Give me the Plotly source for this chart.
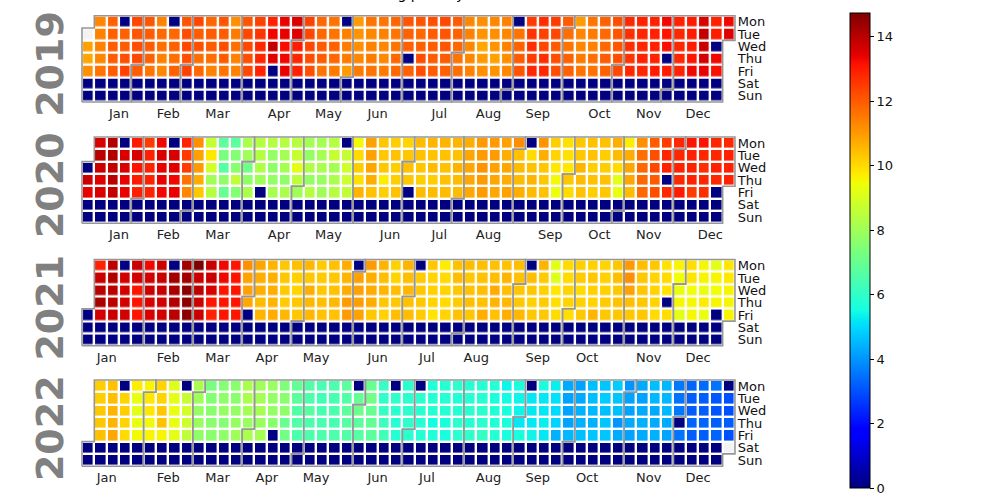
import datetime as dt
import numpy as np
import plotly.graph_objects as go

# ---------------- data ----------------
YEARS = [2019, 2020, 2021, 2022]
DATA_START = dt.date(2019, 1, 2)
DATA_END = dt.date(2022, 12, 30)
WEEKEND_VALUE = 0.0
VMIN, VMAX = 0.0, 14.74
MONTH_LABELS = ["Jan", "Feb", "Mar", "Apr", "May", "Jun",
                "Jul", "Aug", "Sep", "Oct", "Nov", "Dec"]
DAY_LABELS = ["Mon", "Tue", "Wed", "Thu", "Fri", "Sat", "Sun"]
TITLE = "Trading per day"

# weekday values (Mon..Fri) for each calendar week column of each year
W2019 = [
    [None, None, 10.9, 10.8, 11.2], [11.3, 11.4, 11.4, 11.3, 11.6], [11.9, 11.9, 12.0, 12.0, 12.0],
    [0, 11.9, 12.0, 12.2, 12.4], [12.3, 12.1, 12.2, 12.3, 12.0], [12.1, 12.0, 12.0, 11.9, 11.6],
    [11.4, 11.8, 11.7, 11.4, 11.3], [0, 11.8, 11.9, 11.7, 11.9], [12.1, 12.2, 12.3, 12.2, 12.4],
    [12.3, 12.0, 12.2, 11.7, 11.8], [11.8, 12.0, 12.0, 11.7, 11.4], [12.1, 12.0, 12.2, 12.0, 11.6],
    [11.2, 11.5, 11.7, 11.4, 11.4], [12.1, 12.3, 12.3, 12.2, 12.3], [12.4, 12.6, 12.8, 12.8, 12.9],
    [12.9, 13.3, 13.9, 13.5, 0], [13.4, 13.4, 13.2, 13.3, 13.4], [13.6, 13.5, 13.0, 12.8, 12.9],
    [12.4, 12.3, 12.3, 12.2, 12.2], [11.8, 11.8, 12.0, 12.0, 11.6], [11.6, 11.6, 11.9, 11.8, 11.5],
    [0, 11.4, 11.5, 11.5, 11.0], [11.0, 11.1, 11.2, 11.3, 11.5], [11.6, 11.3, 11.4, 11.5, 11.6],
    [11.6, 11.4, 11.3, 11.3, 11.5], [11.8, 11.6, 11.6, 11.8, 11.8], [12.1, 11.9, 11.9, 0, 11.9],
    [12.1, 11.8, 11.9, 12.2, 12.2], [12.2, 12.0, 12.0, 12.0, 12.0], [12.3, 12.1, 12.1, 12.0, 11.9],
    [12.0, 11.9, 11.8, 11.6, 11.7], [11.3, 11.4, 11.3, 11.3, 11.4], [11.2, 11.1, 10.8, 11.0, 11.2],
    [11.3, 11.2, 11.1, 10.9, 11.1], [11.4, 11.3, 11.4, 11.2, 11.3], [0, 11.6, 11.9, 12.0, 12.1],
    [12.5, 12.6, 12.7, 12.5, 12.8], [12.7, 12.4, 12.3, 12.7, 12.8], [12.5, 12.3, 12.0, 12.2, 12.2],
    [12.0, 11.7, 11.6, 11.9, 11.9], [11.0, 11.3, 11.3, 11.5, 11.6], [11.6, 11.5, 11.4, 11.7, 11.6],
    [11.9, 11.8, 11.8, 12.0, 11.9], [12.2, 12.1, 12.1, 12.2, 12.3], [12.8, 12.7, 12.7, 12.6, 12.8],
    [12.9, 12.8, 12.8, 12.9, 12.8], [12.9, 12.9, 12.9, 12.9, 13.0], [13.3, 13.1, 13.2, 0, 13.0],
    [12.9, 12.8, 12.8, 12.8, 12.9], [13.0, 13.0, 13.0, 13.1, 13.3], [13.6, 13.9, 13.8, 13.7, 13.4],
    [12.9, 13.0, 0, 13.3, 13.2], [13.3, 13.5, None, None, None],
]
W2020 = [
    [None, None, 0, 13.8, 13.4], [13.6, 14.0, 13.8, 13.5, 13.6], [14.1, 14.1, 13.9, 14.0, 13.9],
    [0, 13.6, 13.6, 13.4, 13.4], [13.0, 13.6, 13.1, 13.0, 12.9], [12.5, 12.9, 12.9, 12.9, 12.9],
    [13.3, 13.6, 13.4, 13.4, 13.3], [0, 13.6, 13.5, 13.3, 13.4], [12.9, 12.5, 12.5, 11.6, 11.3],
    [11.2, 10.9, 11.0, 10.7, 10.3], [8.7, 9.8, 8.9, 8.0, 8.4], [6.8, 7.3, 6.7, 7.7, 7.0],
    [6.8, 7.5, 7.6, 8.6, 7.5], [8.2, 8.0, 7.2, 7.7, 8.2], [8.4, 8.4, 8.3, 8.0, 0],
    [8.4, 7.8, 7.7, 7.8, 8.1], [8.4, 8.1, 8.1, 7.7, 8.2], [8.4, 8.7, 9.2, 8.5, 8.0],
    [8.1, 7.8, 8.3, 7.8, 8.4], [8.1, 8.1, 8.2, 7.9, 8.0], [8.4, 8.7, 8.1, 8.2, 8.4],
    [0, 8.7, 8.8, 8.8, 8.6], [9.5, 10.0, 10.2, 9.9, 10.6], [10.9, 10.9, 10.8, 10.7, 10.4],
    [10.3, 10.3, 10.3, 9.7, 10.2], [10.2, 10.4, 10.2, 10.2, 10.4], [10.1, 10.3, 10.4, 10.3, 0],
    [10.5, 10.4, 10.3, 10.2, 10.5], [10.6, 10.4, 10.5, 10.2, 10.5], [10.6, 10.4, 10.4, 10.4, 10.5],
    [10.6, 10.4, 10.6, 10.5, 10.5], [10.7, 10.8, 10.8, 10.8, 10.8], [11.0, 11.0, 11.1, 11.0, 11.0],
    [11.0, 11.0, 10.9, 10.8, 10.8], [10.9, 10.7, 10.8, 10.7, 10.9], [11.2, 10.4, 10.5, 10.5, 10.7],
    [0, 10.0, 10.4, 10.6, 10.5], [11.1, 10.7, 10.3, 10.3, 10.4], [10.2, 10.1, 9.8, 9.5, 9.4],
    [9.9, 9.9, 9.8, 10.3, 10.0], [10.3, 10.3, 10.6, 10.5, 10.4], [10.4, 10.4, 10.2, 10.4, 10.2],
    [10.4, 10.2, 10.2, 10.4, 10.3], [10.7, 10.5, 10.0, 9.2, 9.3], [9.7, 10.7, 10.8, 10.8, 10.5],
    [11.2, 11.7, 11.8, 11.8, 11.8], [12.0, 12.2, 12.3, 12.0, 12.2], [12.5, 12.8, 12.9, 0, 12.8],
    [12.8, 12.8, 12.9, 12.8, 13.0], [13.1, 12.9, 12.9, 12.9, 12.5], [13.1, 12.8, 12.7, 12.8, 12.7],
    [12.8, 12.8, 12.9, 12.8, 0], [12.8, 12.9, 12.9, 12.9, None],
]
W2021 = [
    [None, None, None, None, 0], [12.9, 13.8, 14.0, 14.2, 13.7], [14.0, 14.1, 14.0, 14.0, 13.8],
    [0, 13.7, 13.7, 13.7, 13.7], [13.8, 13.7, 13.1, 13.1, 13.1], [13.3, 13.7, 13.8, 13.6, 13.6],
    [13.8, 13.8, 13.8, 13.7, 13.7], [0, 14.3, 14.2, 14.1, 14.0], [14.3, 14.3, 14.6, 14.6, 14.6],
    [14.74, 13.8, 14.0, 13.8, 13.8], [13.8, 13.8, 13.6, 13.1, 12.9], [13.3, 13.3, 13.1, 13.1, 13.1],
    [13.1, 13.1, 13.1, 13.1, 13.1], [11.2, 10.9, 10.9, 10.8, 0], [10.8, 10.7, 10.7, 10.5, 10.6],
    [10.6, 10.7, 10.7, 10.6, 10.75], [10.3, 10.3, 10.25, 10.25, 10.55], [10.4, 10.15, 10.1, 10.3, 10.3],
    [10.55, 10.3, 10.7, 10.55, 10.55], [10.25, 10.25, 10.3, 10.45, 10.4], [10.4, 10.3, 10.4, 10.55, 10.4],
    [10.7, 10.6, 10.75, 11.0, 11.0], [0, 10.9, 10.9, 10.95, 10.9], [11.0, 10.7, 10.75, 10.75, 10.3],
    [10.6, 10.45, 10.6, 10.3, 10.15], [10.15, 10.1, 10.45, 10.3, 10.45], [10.6, 10.45, 10.55, 10.4, 10.45],
    [0, 10.25, 10.3, 10.3, 10.25], [10.3, 10.1, 10.15, 10.1, 9.85], [9.7, 10.0, 10.1, 10.0, 10.1],
    [10.4, 10.45, 10.3, 10.25, 10.4], [10.45, 10.3, 10.4, 10.45, 10.3], [10.45, 10.4, 10.45, 10.4, 10.7],
    [10.4, 10.45, 10.75, 10.6, 10.4], [10.4, 10.6, 10.45, 10.55, 10.7], [10.45, 10.4, 10.3, 10.3, 10.55],
    [0, 10.45, 10.3, 10.15, 10.3], [10.6, 10.25, 10.15, 10.25, 10.3], [9.2, 9.1, 9.8, 9.95, 10.0],
    [10.0, 10.0, 10.1, 10.1, 9.95], [10.15, 10.25, 10.0, 10.15, 10.3], [10.15, 10.3, 10.15, 10.1, 10.6],
    [10.1, 10.15, 10.15, 10.25, 10.3], [10.3, 10.45, 10.3, 10.4, 10.3], [11.0, 11.2, 10.9, 10.45, 10.3],
    [10.45, 10.3, 10.3, 10.3, 10.3], [10.3, 10.1, 10.1, 10.1, 10.0], [9.85, 10.0, 9.85, 0, 9.95],
    [9.6, 9.45, 9.3, 9.55, 9.2], [9.95, 9.85, 9.45, 9.55, 9.55], [9.55, 9.6, 9.3, 9.75, 9.3],
    [9.2, 9.6, 9.45, 9.6, 0], [9.8, 9.8, 9.6, 9.6, 9.6],
]
W2022 = [
    [None, None, None, None, None], [10.2, 10.2, 10.3, 10.3, 10.4], [10.4, 10.45, 10.6, 10.6, 10.8],
    [0, 10.1, 10.2, 10.1, 10.0], [9.7, 9.3, 9.2, 9.3, 9.5], [9.6, 9.8, 9.8, 9.5, 9.6],
    [10.1, 10.1, 10.3, 10.4, 9.6], [9.1, 9.2, 9.3, 9.3, 9.2], [0, 8.7, 8.9, 8.8, 8.6],
    [8.2, 8.0, 7.8, 7.9, 7.7], [7.3, 7.5, 7.6, 7.6, 7.6], [7.5, 7.7, 7.8, 7.5, 7.7],
    [7.6, 7.6, 7.8, 7.8, 8.0], [8.2, 8.2, 8.1, 7.9, 8.2], [8.0, 8.1, 8.1, 7.9, 8.1],
    [7.9, 7.8, 7.8, 7.6, 0], [7.4, 7.6, 7.7, 7.0, 7.2], [6.9, 6.8, 6.6, 6.6, 6.5],
    [6.6, 6.5, 6.7, 6.5, 6.5], [6.4, 6.3, 6.4, 6.4, 6.5], [6.5, 6.4, 6.5, 6.4, 6.5],
    [6.8, 6.6, 6.8, 6.7, 6.6], [0, 6.9, 7.1, 6.8, 6.7], [7.0, 7.2, 7.0, 6.9, 6.8],
    [6.1, 6.0, 6.1, 6.2, 6.3], [0, 6.0, 5.9, 5.8, 5.8], [5.9, 5.9, 5.9, 5.9, 5.9],
    [0, 5.9, 5.9, 5.8, 5.8], [5.7, 5.8, 5.8, 5.5, 5.7], [5.8, 5.8, 5.8, 5.6, 5.6],
    [5.9, 5.7, 5.8, 5.9, 5.9], [5.8, 5.8, 5.9, 5.8, 6.0], [5.8, 5.8, 5.9, 5.9, 6.1],
    [5.8, 5.6, 5.7, 5.7, 5.8], [5.4, 5.5, 5.6, 5.6, 5.6], [5.6, 5.4, 5.4, 5.2, 5.6],
    [0, 5.2, 5.2, 5.2, 5.4], [5.6, 5.2, 5.2, 5.3, 5.2], [5.3, 5.1, 5.0, 4.9, 4.4],
    [4.3, 4.2, 4.2, 4.2, 4.5], [4.2, 4.3, 4.4, 4.4, 4.6], [4.6, 4.6, 4.5, 4.4, 4.7],
    [4.7, 4.8, 4.6, 4.7, 4.7], [4.8, 4.7, 4.6, 4.0, 4.3], [4.0, 4.2, 4.2, 4.3, 4.2],
    [4.3, 4.2, 4.3, 4.4, 4.3], [4.6, 4.5, 4.3, 4.3, 4.4], [4.5, 4.5, 4.5, 4.3, 4.2],
    [3.6, 3.5, 3.6, 0, 3.5], [3.3, 3.2, 3.2, 3.3, 3.2], [3.4, 3.2, 3.2, 3.3, 3.2],
    [3.5, 3.1, 3.1, 3.2, 3.3], [0, 3.0, 3.0, 3.2, 3.0],
]
WEEK_VALUES = {2019: W2019, 2020: W2020, 2021: W2021, 2022: W2022}

# ---------------- style / layout ----------------
W, H = 1000, 500
CELL = 12.32
GRID_LEFT = 82.0
BLOCK_TOPS = [15.7, 137.0, 259.5, 380.0]
PAD = 0.15  # extra range (in cells) so outlines are not clipped
OUTLINE = "rgb(150,150,150)"
NAN_COLOR = "rgb(243,243,243)"
FONT = "DejaVu Sans"

# matplotlib 'jet' segment data -> plotly colorscale
_jet = {
    "r": [(0, 0), (0.35, 0), (0.66, 1), (0.89, 1), (1, 0.5)],
    "g": [(0, 0), (0.125, 0), (0.375, 1), (0.64, 1), (0.91, 0), (1, 0)],
    "b": [(0, 0.5), (0.11, 1), (0.34, 1), (0.65, 0), (1, 0)],
}
_stops = sorted({x for seg in _jet.values() for x, _ in seg})
def _ch(seg, s):
    return np.interp(s, [a for a, _ in seg], [b for _, b in seg])
JET = [[s, "rgb(%d,%d,%d)" % tuple(round(255 * _ch(_jet[c], s)) for c in "rgb")] for s in _stops]


def grid_start(year):
    first = dt.date(year, 1, 1)
    return first - dt.timedelta(days=first.weekday())


def col_row(d):
    delta = (d - grid_start(d.year)).days
    return delta // 7, delta % 7


fig = go.Figure()
layout_axes = {}

for i, year in enumerate(YEARS):
    n = i + 1
    xa = "x" if n == 1 else "x%d" % n
    ya = "y" if n == 1 else "y%d" % n
    start = grid_start(year)
    z = np.full((7, 53), np.nan)
    zna = np.full((7, 53), np.nan)
    for col in range(53):
        for row in range(7):
            d = start + dt.timedelta(days=7 * col + row)
            if d.year != year:
                continue
            if d < DATA_START or d > DATA_END:
                zna[row, col] = 1
                continue
            val = WEEKEND_VALUE if row >= 5 else WEEK_VALUES[year][col][row]
            if val is None:
                zna[row, col] = 1
            else:
                z[row, col] = val
    fig.add_trace(go.Heatmap(
        z=z, x=list(range(53)), y=list(range(7)), coloraxis="coloraxis",
        xgap=2.4, ygap=2.4, hoverinfo="skip", xaxis=xa, yaxis=ya))
    fig.add_trace(go.Heatmap(
        z=zna, x=list(range(53)), y=list(range(7)), showscale=False,
        colorscale=[[0, NAN_COLOR], [1, NAN_COLOR]], xgap=2.4, ygap=2.4,
        hoverinfo="skip", xaxis=xa, yaxis=ya))

    # month outlines
    ox, oy = [], []
    for m in range(1, 13):
        d0 = dt.date(year, m, 1)
        d1 = (dt.date(year + 1, 1, 1) if m == 12 else dt.date(year, m + 1, 1)) - dt.timedelta(days=1)
        c0, r0 = col_row(d0)
        c1, r1 = col_row(d1)
        ox += [c0 - 0.5, c0 - 0.5, c0 + 0.5, c0 + 0.5, c1 + 0.5, c1 + 0.5, c1 - 0.5, c1 - 0.5, c0 - 0.5, None]
        oy += [6.5, r0 - 0.5, r0 - 0.5, -0.5, -0.5, r1 + 0.5, r1 + 0.5, 6.5, 6.5, None]
    fig.add_trace(go.Scatter(x=ox, y=oy, mode="lines", line=dict(color=OUTLINE, width=1.6),
                             hoverinfo="skip", showlegend=False, xaxis=xa, yaxis=ya))

    top = BLOCK_TOPS[i] - PAD * CELL
    bot = BLOCK_TOPS[i] + (7 + PAD) * CELL
    left = GRID_LEFT - PAD * CELL
    right = GRID_LEFT + (53 + PAD) * CELL
    tickvals = [dt.date(year, m, 15).isocalendar()[1] - 0.5 for m in range(1, 13)]
    layout_axes["xaxis" if n == 1 else "xaxis%d" % n] = dict(
        domain=[left / W, right / W], anchor=ya, range=[-0.5 - PAD, 52.5 + PAD],
        showgrid=False, zeroline=False, showline=False, ticks="",
        tickvals=tickvals, ticktext=MONTH_LABELS,
        tickfont=dict(family=FONT, size=13, color="#222"), fixedrange=True)
    layout_axes["yaxis" if n == 1 else "yaxis%d" % n] = dict(
        domain=[1 - bot / H, 1 - top / H], anchor=xa, range=[6.5 + PAD, -0.5 - PAD],
        showgrid=False, zeroline=False, showline=False, ticks="", side="right",
        tickvals=list(range(7)), ticktext=DAY_LABELS,
        tickfont=dict(family=FONT, size=13, color="#111"), fixedrange=True)

    fig.add_annotation(
        text="<b>%d</b>" % year, xref="paper", yref="paper",
        x=50 / W, y=1 - (BLOCK_TOPS[i] + 3.5 * CELL + 5) / H,
        textangle=-90, showarrow=False, xanchor="center", yanchor="middle",
        font=dict(family=FONT, size=38, color="#808080"))

fig.add_annotation(
    text=TITLE, xref="paper", yref="paper", x=408.5 / W, y=1 + 16.5 / H,
    xanchor="center", yanchor="top", showarrow=False,
    font=dict(family=FONT, size=14, color="#000"))

fig.update_layout(
    width=W, height=H, margin=dict(l=0, r=0, t=0, b=0),
    paper_bgcolor="white", plot_bgcolor="white", showlegend=False,
    font=dict(family=FONT),
    coloraxis=dict(
        colorscale=JET, cmin=VMIN, cmax=VMAX,
        colorbar=dict(
            x=850 / W, xanchor="left", xpad=0, y=1 - 13 / H, yanchor="top", ypad=0,
            len=475, lenmode="pixels", thickness=20, thicknessmode="pixels",
            outlinewidth=1, outlinecolor="black",
            tickvals=list(range(0, 15, 2)), ticks="outside", ticklen=4,
            tickcolor="black", tickfont=dict(family=FONT, size=13, color="#111"))),
    **layout_axes)

fig.write_html("out.html", config={"displayModeBar": False},
               post_script="document.body.style.margin='0';document.body.style.overflow='hidden';")
